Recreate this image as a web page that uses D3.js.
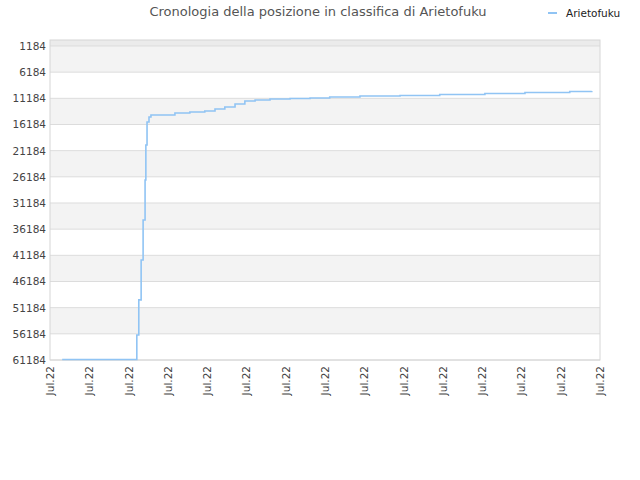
<!DOCTYPE html>
<html><head><meta charset="utf-8">
<script src="https://cdn.jsdelivr.net/npm/d3@7"></script>
<style>body{margin:0;background:#fff;font-family:"DejaVu Sans",sans-serif}</style>
</head><body><svg width="640" height="480"></svg>
<script>
// x position in label steps (0..14), rank value
var days = [0.31,2.19,2.21,2.26,2.32,2.37,2.42,2.44,2.47,2.52,2.57,3.18,3.56,3.94,4.2,4.45,4.71,4.96,5.22,5.6,6.11,6.62,7.12,7.89,8.91,9.92,11.07,12.09,13.23,13.79];
var ranks = [61100,61100,56400,49700,42070,34430,26780,20100,15700,14750,14370,13990,13800,13600,13220,12840,12270,11690,11500,11310,11210,11120,10930,10740,10640,10450,10260,10070,9880,9780];
var yTicks = [1184,6184,11184,16184,21184,26184,31184,36184,41184,46184,51184,56184,61184];
var xLabels = d3.range(15).map(function(){ return "Jul.22"; });

var svg = d3.select("svg");
var L = 50, R = 600, T = 40, B = 360;
var x = d3.scaleLinear().domain([0,14]).range([L,R]);
var y = d3.scaleLinear().domain([38,61184]).range([T,B]);

svg.append("rect").attr("x",L).attr("y",T).attr("width",R-L).attr("height",y(1184)-T).attr("fill","#ebebeb");
for (var i=0;i<yTicks.length-1;i++){
  svg.append("rect").attr("x",L).attr("y",y(yTicks[i])).attr("width",R-L)
    .attr("height",y(yTicks[i+1])-y(yTicks[i])).attr("fill",i%2==0?"#f3f3f3":"#fff");
}
svg.selectAll(".g").data(yTicks).join("line").attr("x1",L).attr("x2",R)
  .attr("y1",d=>y(d)).attr("y2",d=>y(d)).attr("stroke","#dcdcdc");
svg.append("rect").attr("x",L).attr("y",T).attr("width",R-L).attr("height",B-T)
  .attr("fill","none").attr("stroke","#d6d6d6");

svg.selectAll(".yl").data(yTicks).join("text").attr("x",L-4).attr("y",d=>y(d)+4)
  .attr("text-anchor","end").attr("font-size",10.5).attr("fill","#444").text(d=>d);
svg.selectAll(".xl").data(xLabels).join("text")
  .attr("transform",(d,i)=>"translate("+(x(i)+4)+","+(B+6)+") rotate(-90)")
  .attr("text-anchor","end").attr("font-size",10.5).attr("fill","#444").text(d=>d);

var line = d3.line().curve(d3.curveStepAfter).x((d,i)=>x(days[i])).y(d=>y(d));
svg.append("path").datum(ranks).attr("d",line).attr("fill","none")
  .attr("stroke","#90c4f4").attr("stroke-width",1.6);

svg.append("text").attr("x",318).attr("y",16).attr("text-anchor","middle")
  .attr("font-size",13).attr("fill","#555").text("Cronologia della posizione in classifica di Arietofuku");
svg.append("line").attr("x1",548).attr("x2",557).attr("y1",13).attr("y2",13).attr("stroke","#90c4f4").attr("stroke-width",2);
svg.append("text").attr("x",566).attr("y",17).attr("font-size",10.5).attr("fill","#222").text("Arietofuku");
</script></body></html>
